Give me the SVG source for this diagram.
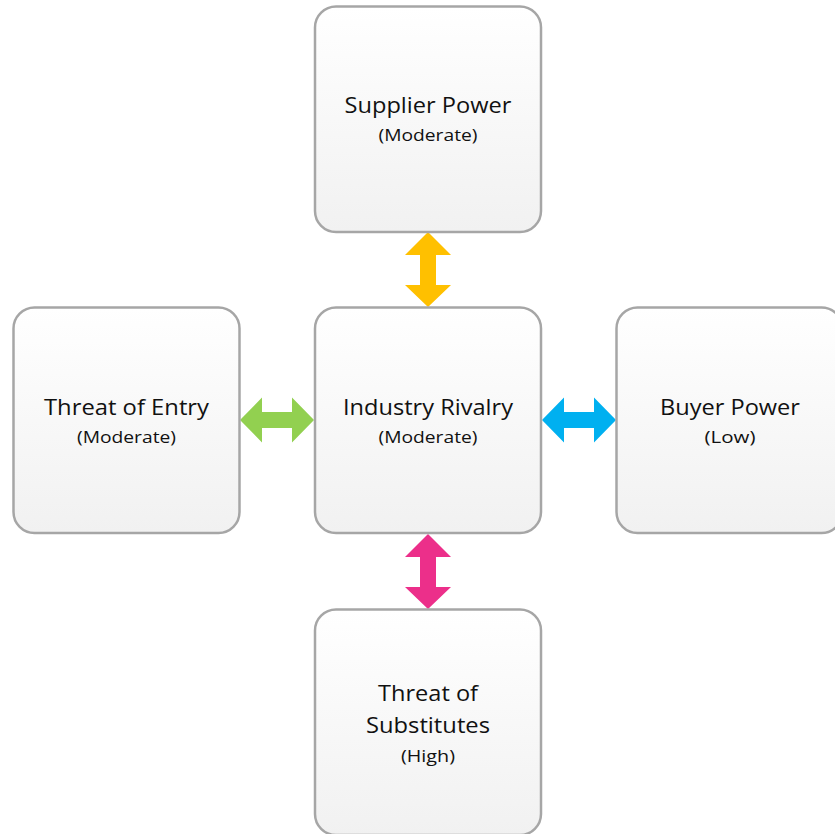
<svg xmlns="http://www.w3.org/2000/svg" width="835" height="834" viewBox="0 0 835 834">
  <defs>
    <linearGradient id="boxFill" x1="0" y1="0" x2="0" y2="1">
      <stop offset="0" stop-color="#ffffff"/>
      <stop offset="1" stop-color="#f1f1f1"/>
    </linearGradient>
    <style>
      .box { fill: url(#boxFill); stroke: #a6a6a6; stroke-width: 2.5; }
      .title { font-family: "Open Sans", "Noto Sans", sans-serif; font-size: 22.5px; fill: #111; text-anchor: middle; }
      .sub { font-family: "Open Sans", "Noto Sans", sans-serif; font-size: 17px; fill: #111; text-anchor: middle; }
    </style>
  </defs>
  <rect width="835" height="834" fill="#ffffff"/>

  <!-- double-headed arrows between the forces -->
  <g id="connectors">
    <!-- vertical: Supplier Power <-> Industry Rivalry -->
    <polygon fill="#FFC000" points="428,232 451,255 436,255 436,285 451,285 428,307 405,285 420,285 420,255 405,255"/>
    <!-- horizontal: Threat of Entry <-> Industry Rivalry -->
    <polygon fill="#92D050" points="240,420 262,397.5 262,412 292,412 292,397.5 314,420 292,442.5 292,428 262,428 262,442.5"/>
    <!-- horizontal: Industry Rivalry <-> Buyer Power -->
    <polygon fill="#00B0F0" points="542,420 564,397.5 564,412 594,412 594,397.5 616,420 594,442.5 594,428 564,428 564,442.5"/>
    <!-- vertical: Industry Rivalry <-> Threat of Substitutes -->
    <polygon fill="#EC2F8A" points="428,534 451,557 436,557 436,587 451,587 428,609 405,587 420,587 420,557 405,557"/>
  </g>

  <g id="supplier-power">
    <rect class="box" x="315" y="6.5" width="226" height="225.5" rx="21"/>
    <text class="title" x="428" y="113" textLength="167" lengthAdjust="spacingAndGlyphs">Supplier Power</text>
    <text class="sub" x="428" y="141" textLength="99" lengthAdjust="spacingAndGlyphs">(Moderate)</text>
  </g>

  <g id="threat-of-entry">
    <rect class="box" x="13.5" y="307.5" width="226" height="225.5" rx="21"/>
    <text class="title" x="126.5" y="415" textLength="165" lengthAdjust="spacingAndGlyphs">Threat of Entry</text>
    <text class="sub" x="126.5" y="443" textLength="99" lengthAdjust="spacingAndGlyphs">(Moderate)</text>
  </g>

  <g id="industry-rivalry">
    <rect class="box" x="315" y="307.5" width="226" height="225.5" rx="21"/>
    <text class="title" x="428" y="415" textLength="170" lengthAdjust="spacingAndGlyphs">Industry Rivalry</text>
    <text class="sub" x="428" y="443" textLength="99" lengthAdjust="spacingAndGlyphs">(Moderate)</text>
  </g>

  <g id="buyer-power">
    <rect class="box" x="616.5" y="307.5" width="226" height="225.5" rx="21"/>
    <text class="title" x="730" y="415" textLength="140" lengthAdjust="spacingAndGlyphs">Buyer Power</text>
    <text class="sub" x="730" y="443" textLength="51" lengthAdjust="spacingAndGlyphs">(Low)</text>
  </g>

  <g id="threat-of-substitutes">
    <rect class="box" x="315" y="609.5" width="226" height="225.5" rx="21"/>
    <text class="title" x="428" y="701" textLength="100" lengthAdjust="spacingAndGlyphs">Threat of</text>
    <text class="title" x="428" y="733" textLength="124" lengthAdjust="spacingAndGlyphs">Substitutes</text>
    <text class="sub" x="428" y="762" textLength="54" lengthAdjust="spacingAndGlyphs">(High)</text>
  </g>
</svg>
